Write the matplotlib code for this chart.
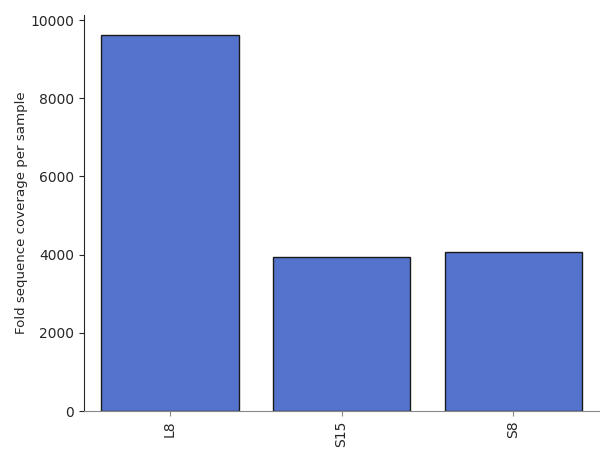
import matplotlib
matplotlib.use("Agg")
import matplotlib.pyplot as plt

samples = ["L8", "S15", "S8"]
coverage = [9615, 3945, 4060]

fig = plt.figure(figsize=(6.14, 4.61), dpi=100)
ax = fig.add_axes([84 / 614, 50 / 461, 515 / 614, 396 / 461])

ax.bar(range(len(samples)), coverage, width=0.8, color="#5473cc",
       edgecolor="#1a1a1a", linewidth=1.0)
ax.set_xlim(-0.5, 2.5)
ax.set_ylim(0, 10128)
ax.set_xticks(range(len(samples)))
ax.set_xticklabels(samples, rotation=90)
ax.set_yticks([0, 2000, 4000, 6000, 8000, 10000])
ax.set_ylabel("Fold sequence coverage per sample", fontsize=9.6,
              color="#262626", labelpad=1.5)

for s in ["top", "right"]:
    ax.spines[s].set_visible(False)
ax.spines["bottom"].set_color("#888888")
ax.spines["left"].set_color("#262626")
ax.tick_params(axis="x", colors="#888888", labelcolor="#262626", labelsize=10)
ax.tick_params(axis="y", colors="#262626", labelsize=10)

fig.savefig("out.png", dpi=100)
